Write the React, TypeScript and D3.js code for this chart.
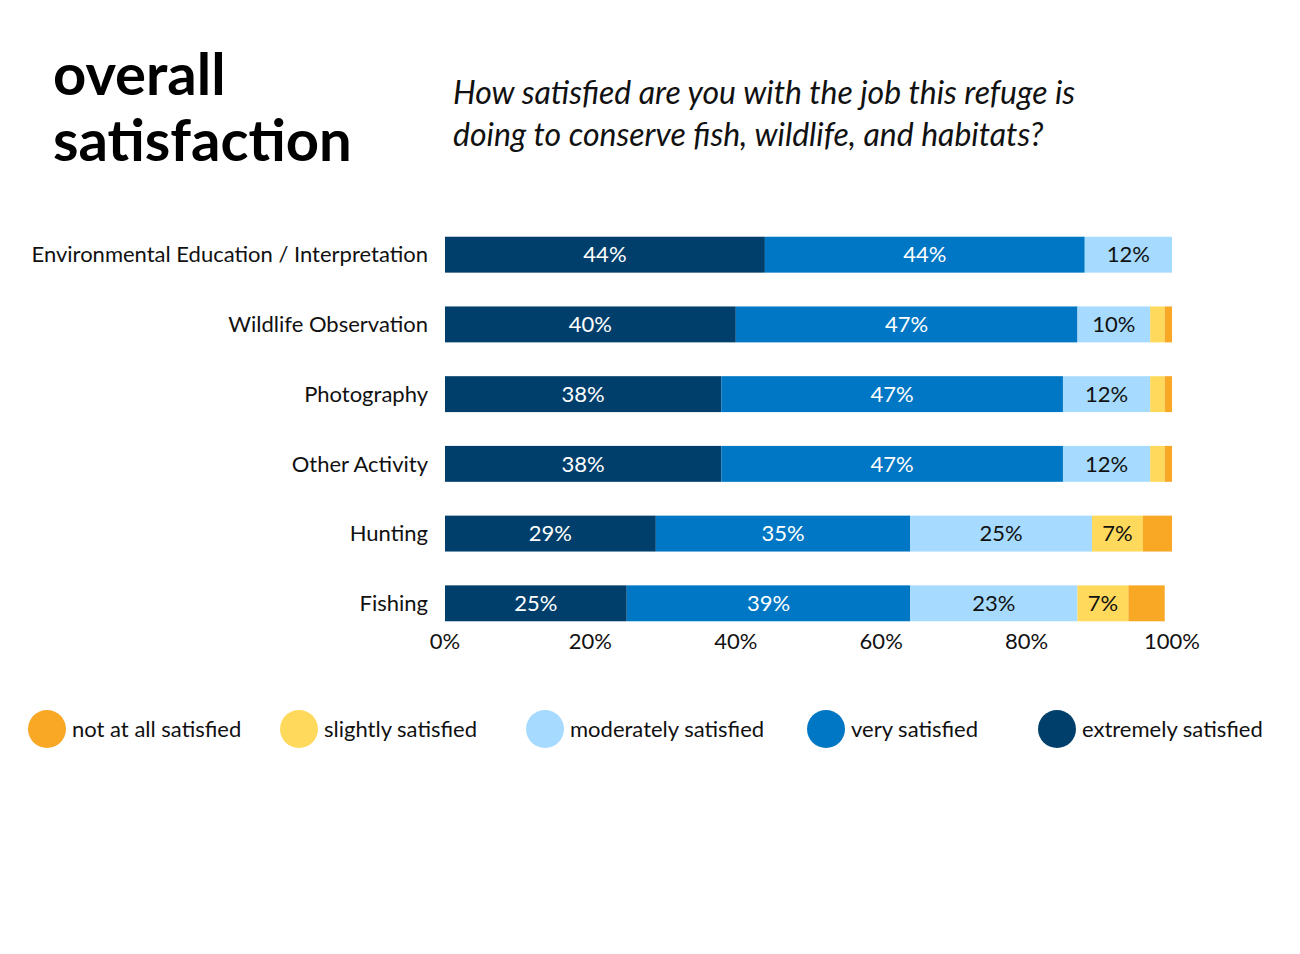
import React from 'react';
import * as d3 from 'd3';

const categories = [
  'Environmental Education / Interpretation',
  'Wildlife Observation',
  'Photography',
  'Other Activity',
  'Hunting',
  'Fishing',
];
const extremely = [44, 40, 38, 38, 29, 25];
const very = [44, 47, 47, 47, 35, 39];
const moderately = [12, 10, 12, 12, 25, 23];
const slightly = [0, 2, 2, 2, 7, 7];
const notAtAll = [0, 1, 1, 1, 4, 5];

const seriesNames = ['extremely satisfied', 'very satisfied', 'moderately satisfied', 'slightly satisfied', 'not at all satisfied'];
const seriesValues = [extremely, very, moderately, slightly, notAtAll];
const colors = ['#003f6b', '#0077c4', '#a6dbff', '#ffd95c', '#f9a825'];
const textColors = ['#fff', '#fff', '#111', '#111', '#111'];
const ticks = [0, 20, 40, 60, 80, 100];

const legendOrder = [4, 3, 2, 1, 0];
const legendX = [47, 299, 545, 826, 1057];

export default function App() {
  const x = d3.scaleLinear().domain([0, 100]).range([445, 1172]);
  const y = d3.scaleBand().domain(categories).range([220, 638]).paddingInner(0.485).paddingOuter(0.24);
  const font = 'Lato, "Open Sans", sans-serif';

  return (
    <svg width={1300} height={954} style={{ position: 'absolute', left: 0, top: 0, fontFamily: font }}>
      <rect width={1300} height={954} fill="#fff" />
      <text x={53} y={95} fontSize={58} fontWeight={700} fill="#000">overall</text>
      <text x={53} y={161} fontSize={58} fontWeight={700} fill="#000">satisfaction</text>
      <text x={453} y={104} fontSize={32} fontStyle="italic" fill="#111">How satisfied are you with the job this refuge is</text>
      <text x={453} y={146} fontSize={32} fontStyle="italic" fill="#111">doing to conserve fish, wildlife, and habitats?</text>

      {categories.map((c, i) => {
        const y0 = y(c)!;
        const h = y.bandwidth();
        const stack = d3.cumsum([0, ...seriesValues.map(s => s[i])]);
        return (
          <g key={c}>
            <text x={428} y={y0 + h / 2} dy="0.35em" textAnchor="end" fontSize={22} fill="#111">{c}</text>
            {seriesValues.map((s, k) => {
              const v = s[i];
              if (!v) return null;
              const x0 = x(stack[k]);
              const x1 = x(stack[k + 1]);
              return (
                <g key={k}>
                  <rect x={x0} y={y0} width={x1 - x0} height={h} fill={colors[k]} />
                  {v >= 7 && (
                    <text x={(x0 + x1) / 2} y={y0 + h / 2} dy="0.35em" textAnchor="middle" fontSize={22} fill={textColors[k]}>{v}%</text>
                  )}
                </g>
              );
            })}
          </g>
        );
      })}

      {ticks.map(t => (
        <text key={t} x={x(t)} y={649} textAnchor="middle" fontSize={22} fill="#111">{t}%</text>
      ))}

      {legendOrder.map((k, i) => (
        <g key={k}>
          <circle cx={legendX[i]} cy={729} r={19} fill={colors[k]} />
          <text x={legendX[i] + 25} y={729} dy="0.35em" fontSize={22} fill="#111">{seriesNames[k]}</text>
        </g>
      ))}
    </svg>
  );
}
